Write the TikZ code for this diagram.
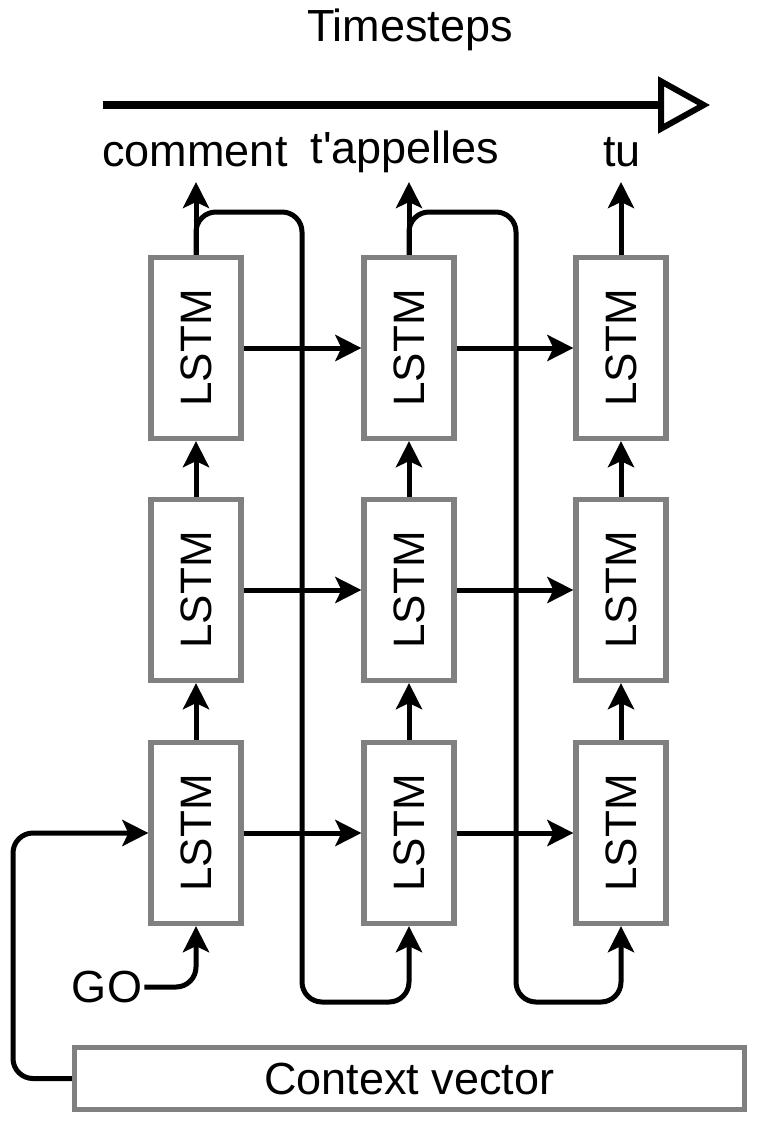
\documentclass[tikz,border=0pt]{standalone}
\usepackage{fontspec}
\setmainfont{Liberation Sans}
\usetikzlibrary{arrows.meta}
\tikzset{
  lstm/.style={draw=gray, line width=2.6pt, fill=white, inner sep=0pt,
    minimum width=45pt, minimum height=90.5pt},
  ctxbox/.style={draw=gray, line width=2.6pt, fill=white, inner sep=0pt,
    minimum width=335pt, minimum height=31pt},
  lbl/.style={inner sep=1pt, font=\fontsize{22.5}{26}\selectfont},
  arr/.style={line width=2.5pt, -{Stealth[length=13pt,width=13pt,inset=3pt]}},
  loop/.style={arr, rounded corners=10pt},
}
\begin{document}
\begin{tikzpicture}[x=0.5pt,y=-0.5pt]
\useasboundingbox (0,0) rectangle (756,1124);
% timeline
\node[lbl] (ts) at (410,30) {Timesteps};
\coordinate (tl1) at (103,105);
\coordinate (tl2) at (710,105);
\draw[line width=3.6pt, -{Triangle[open,length=26pt,width=28pt,line width=3pt]}] (tl1) -- (tl2);
% output labels
\node[lbl] (w1) at (195,152) {comment};
\node[lbl] (w2) at (405,152) {t\textquotesingle appelles};
\node[lbl] (w3) at (622,152) {tu};
% LSTM grid
\foreach \c/\x in {1/196,2/409,3/621}{
  \foreach \r/\y in {1/348,2/590,3/833}{
    \node[lstm] (r\r c\c) at (\x,\y) {\rotatebox{90}{\fontsize{22}{26}\selectfont LSTM}};
  }
}
% context vector
\node[ctxbox] (ctx) at (409.5,1078.5) {\fontsize{22.5}{26}\selectfont Context vector};
\node[lbl] (go) at (107,987) {GO};
% output arrow end points
\coordinate (o1) at (196,182);
\coordinate (o2) at (409,182);
\coordinate (o3) at (621,182);
% feedback loops (drawn first so arrows lie on top)
\draw[loop] (r1c1.north) -- (196,212) -- (302,212) -- (302,1002) -- (409,1002) -- (r3c2.south);
\draw[loop] (r1c2.north) -- (409,212) -- (516,212) -- (516,1002) -- (621,1002) -- (r3c3.south);
% horizontal arrows
\foreach \r in {1,2,3}{
  \draw[arr] (r\r c1.east) -- (r\r c2.west);
  \draw[arr] (r\r c2.east) -- (r\r c3.west);
}
% vertical arrows
\foreach \c in {1,2,3}{
  \draw[arr] (r3c\c.north) -- (r2c\c.south);
  \draw[arr] (r2c\c.north) -- (r1c\c.south);
  \draw[arr] (r1c\c.north) -- (o\c);
}
% GO input
\draw[loop] (go.east) -- (196,987) -- (r3c1.south);
% context input
\draw[loop] (ctx.west) -- (13,1078.5) -- (13,833) -- (r3c1.west);
\end{tikzpicture}
\end{document}
